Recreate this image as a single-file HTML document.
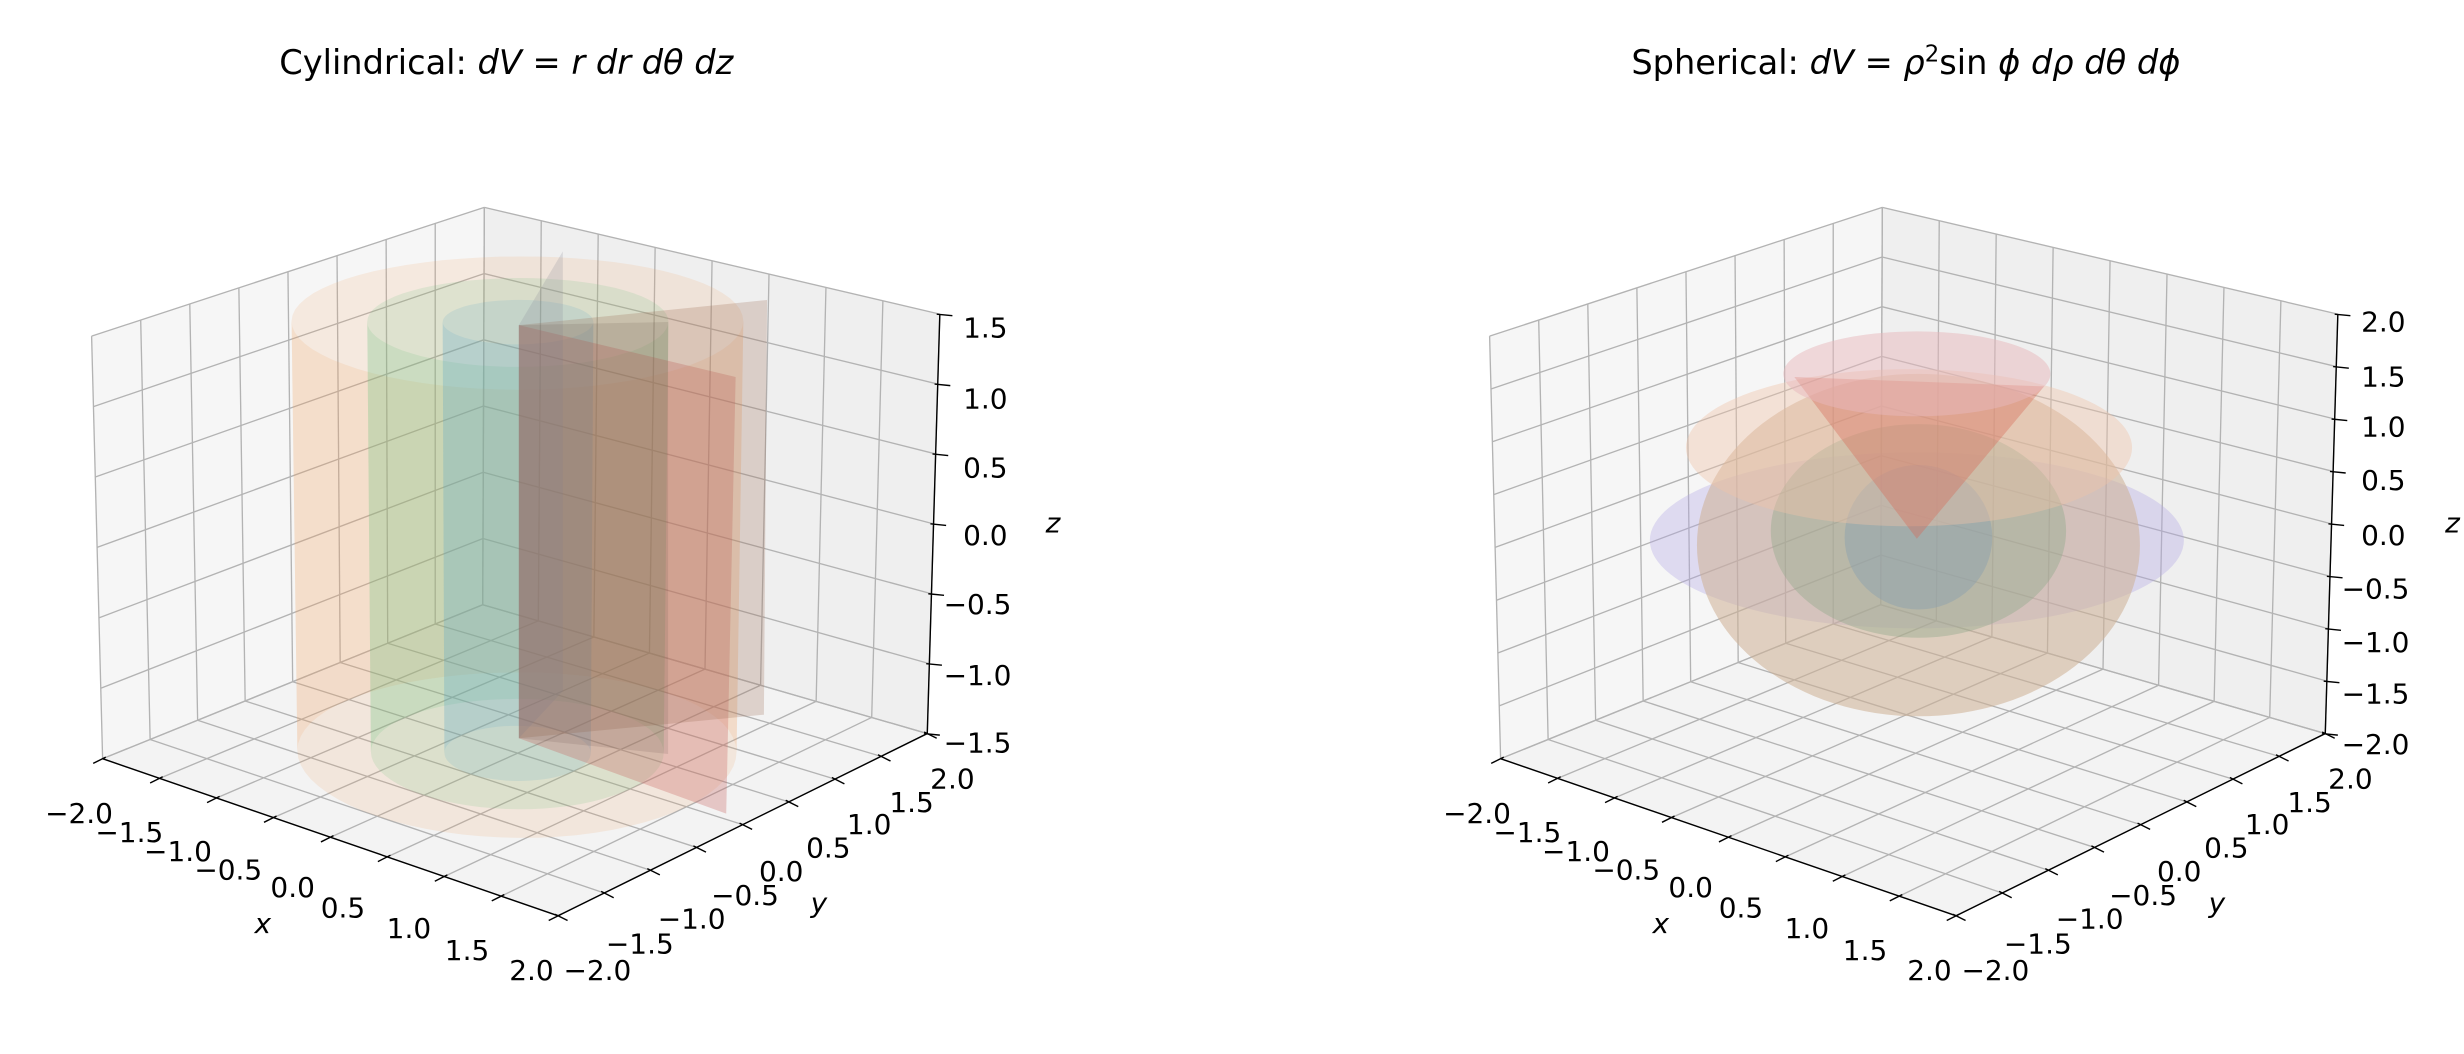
<!DOCTYPE html>
<html><head><meta charset="utf-8"><style>
html,body{margin:0;padding:0;background:#fff;}
svg{display:block;}
text{font-family:"DejaVu Sans","Liberation Sans",sans-serif;fill:#000;}
</style></head><body>
<svg id="s" xmlns="http://www.w3.org/2000/svg" width="2464" height="1054" viewBox="0 0 1568 671">
<rect width="1568" height="671" fill="#fff"/>
<g id="g1"></g>
<g id="g2"></g>
<!-- titles -->
<text x="322" y="47" font-size="21.4" text-anchor="middle">Cylindrical: <tspan font-style="italic">dV</tspan> = <tspan font-style="italic">r dr d</tspan><tspan font-style="italic">θ</tspan><tspan font-style="italic"> dz</tspan></text>
<text x="1213" y="47" font-size="21.4" text-anchor="middle">Spherical: <tspan font-style="italic">dV</tspan> = <tspan font-style="italic">ρ</tspan><tspan font-size="14.5" dy="-8">2</tspan><tspan dy="8">sin </tspan><tspan font-style="italic">ϕ dρ dθ dϕ</tspan></text>
<!-- left tick labels -->
<g font-size="17.8" text-anchor="middle">
<text x="50" y="524">−2.0</text><text x="82" y="536">−1.5</text><text x="113" y="548">−1.0</text><text x="145" y="560">−0.5</text><text x="186" y="571">0.0</text><text x="218" y="584">0.5</text><text x="260" y="597">1.0</text><text x="297" y="611">1.5</text><text x="338" y="624">2.0</text>
<text x="380" y="624">−2.0</text><text x="407" y="607">−1.5</text><text x="440" y="591">−1.0</text><text x="474" y="576">−0.5</text><text x="497" y="561">0.0</text><text x="527" y="546">0.5</text><text x="553" y="531">1.0</text><text x="580" y="517">1.5</text><text x="606" y="502">2.0</text>
<text x="627" y="215">1.5</text><text x="627" y="260">1.0</text><text x="627" y="304">0.5</text><text x="627" y="347">0.0</text><text x="622" y="391">−0.5</text><text x="622" y="436">−1.0</text><text x="622" y="479">−1.5</text>
<text x="167" y="594" font-style="italic">x</text><text x="521" y="581" font-style="italic">y</text><text x="670" y="339" font-style="italic">z</text>
</g>
<!-- right tick labels -->
<g font-size="17.8" text-anchor="middle">
<text x="940" y="524">−2.0</text><text x="972" y="536">−1.5</text><text x="1003" y="548">−1.0</text><text x="1035" y="560">−0.5</text><text x="1076" y="571">0.0</text><text x="1108" y="584">0.5</text><text x="1150" y="597">1.0</text><text x="1187" y="611">1.5</text><text x="1228" y="624">2.0</text>
<text x="1270" y="624">−2.0</text><text x="1297" y="607">−1.5</text><text x="1330" y="591">−1.0</text><text x="1364" y="576">−0.5</text><text x="1387" y="561">0.0</text><text x="1417" y="546">0.5</text><text x="1443" y="531">1.0</text><text x="1470" y="517">1.5</text><text x="1496" y="502">2.0</text>
<text x="1517" y="211">2.0</text><text x="1517" y="246">1.5</text><text x="1517" y="278">1.0</text><text x="1517" y="312">0.5</text><text x="1517" y="347">0.0</text><text x="1512" y="381">−0.5</text><text x="1512" y="415">−1.0</text><text x="1512" y="448">−1.5</text><text x="1512" y="480">−2.0</text>
<text x="1057" y="594" font-style="italic">x</text><text x="1411" y="581" font-style="italic">y</text><text x="1561" y="339" font-style="italic">z</text>
</g>
</svg>
<script>
var NS="http://www.w3.org/2000/svg";
function el(g,t,a){var e=document.createElementNS(NS,t);for(var k in a)e.setAttribute(k,a[k]);g.appendChild(e);return e;}
function mk(dx,lo,hi){
 var A0=[65+dx,483],A1=[58+dx,214],B0=[355+dx,583],B1=[354+dx,292],C0=[590+dx,467],C1=[598+dx,200],D0=[307+dx,385],D1=[308+dx,132];
 function bl(a,b,c,d,u,v){return [a[0]*(1-u)*(1-v)+b[0]*u*(1-v)+c[0]*u*v+d[0]*(1-u)*v,a[1]*(1-u)*(1-v)+b[1]*u*(1-v)+c[1]*u*v+d[1]*(1-u)*v];}
 return function(x,y,z){var u=(x+2)/4,v=(y+2)/4,w=(z-lo)/(hi-lo);var p=bl(A0,B0,C0,D0,u,v),q=bl(A1,B1,C1,D1,u,v);return [p[0]*(1-w)+q[0]*w,p[1]*(1-w)+q[1]*w];};
}
function pts(a){return a.map(function(p){return p[0].toFixed(1)+","+p[1].toFixed(1);}).join(" ");}
function frame(g,P,lo,hi,zt){
 var xs=[-2,-1.5,-1,-0.5,0,0.5,1,1.5,2];
 el(g,"polygon",{points:pts([P(-2,-2,lo),P(-2,2,lo),P(-2,2,hi),P(-2,-2,hi)]),fill:"#f6f6f6"});
 el(g,"polygon",{points:pts([P(-2,2,lo),P(2,2,lo),P(2,2,hi),P(-2,2,hi)]),fill:"#efefef"});
 el(g,"polygon",{points:pts([P(-2,-2,lo),P(2,-2,lo),P(2,2,lo),P(-2,2,lo)]),fill:"#f3f3f3"});
 var gs={stroke:"#b3b3b3","stroke-width":0.85,fill:"none"};
 function L(a,b,s){var o={x1:a[0],y1:a[1],x2:b[0],y2:b[1]};for(var k in s)o[k]=s[k];el(g,"line",o);}
 xs.forEach(function(t){L(P(-2,t,lo),P(-2,t,hi),gs);L(P(t,2,lo),P(t,2,hi),gs);L(P(t,-2,lo),P(t,2,lo),gs);L(P(-2,t,lo),P(2,t,lo),gs);});
 zt.forEach(function(z){L(P(-2,-2,z),P(-2,2,z),gs);L(P(-2,2,z),P(2,2,z),gs);});
}
function axes(g,P,lo,hi,zt){
 var xs=[-2,-1.5,-1,-0.5,0,0.5,1,1.5,2];
 function L(a,b){el(g,"line",{x1:a[0],y1:a[1],x2:b[0],y2:b[1],stroke:"#000","stroke-width":0.9});}
 L(P(-2,-2,lo),P(2,-2,lo));L(P(2,-2,lo),P(2,2,lo));L(P(2,2,lo),P(2,2,hi));
 xs.forEach(function(t){var a=P(t,-2,lo);L([a[0]+2,a[1]-1],[a[0]-6,a[1]+3]);var b=P(2,t,lo);L([b[0]-2,b[1]-1],[b[0]+6,b[1]+3]);});
 zt.forEach(function(z){var c=P(2,2,z);L([c[0]-2,c[1]],[c[0]+8,c[1]+1]);});
}
function poly(g,a,fill,op){el(g,"polygon",{points:pts(a),fill:fill,"fill-opacity":op});}
// LEFT
(function(){
 var g=document.getElementById("g1"),lo=-1.5,hi=1.5,zt=[-1.5,-1,-0.5,0,0.5,1,1.5];
 var P=mk(0,lo,hi);frame(g,P,lo,hi,zt);
 var z0=-1.5,z1=1.55;
 function cyl(r,col,op){
  var N=72,top=[],bot=[];
  for(var i=0;i<=N;i++){var t=2*Math.PI*i/N;top.push(P(r*Math.cos(t),r*Math.sin(t),z1));bot.push(P(r*Math.cos(t),r*Math.sin(t),z0));}
  var imin=0,imax=0;for(i=0;i<N;i++){if(top[i][0]<top[imin][0])imin=i;if(top[i][0]>top[imax][0])imax=i;}
  function half(a,b){var T=[],B=[];var i=a;while(true){T.push(top[i]);B.push(bot[i]);if(i==b)break;i=(i+1)%N;}return T.concat(B.reverse());}
  poly(g,half(imin,imax),col,op);poly(g,half(imax,imin),col,op);
 }
 cyl(1.5,"#f2a060",0.15);cyl(1.0,"#6cc27a",0.16);cyl(0.5,"#5fa8c8",0.16);
 // red plane
 poly(g,[[330,207],[468,240],[462,518],[330,470]],"#c8605c",0.3);
 // brown plane
 poly(g,[[330,207],[488,191],[486,455],[330,470]],"#9a6a55",0.25);
 // gray triangle
 poly(g,[[330,207],[358,160],[358,440],[330,470]],"#8a8898",0.22);
 // darker center strip
 poly(g,[[330,207],[425,205],[425,480],[330,470]],"#5a4a40",0.14);
 axes(g,P,lo,hi,zt);
})();
// RIGHT
(function(){
 var g=document.getElementById("g2"),lo=-2,hi=2,zt=[-2,-1.5,-1,-0.5,0,0.5,1,1.5,2];
 var P=mk(890,lo,hi);frame(g,P,lo,hi,zt);
 function E(cx,cy,rx,ry,f,o){el(g,"ellipse",{cx:cx,cy:cy,rx:rx,ry:ry,fill:f,"fill-opacity":o});}
 E(1220,344,170,56,"#b3a6e6",0.35);
 E(1221,347,141,109,"#e8c098",0.45);
 E(1221,347,141,109,"#a09890",0.2);
 E(1221,338,94,68,"#8ea88a",0.4);
 E(1221,342,47,46,"#8aa0b0",0.45);
 E(1215,285,142,50,"#f0c4a8",0.4);
 el(g,"polygon",{points:"1142,240 1220,343 1301,246",fill:"#d86a58","fill-opacity":0.38});
 E(1220,238,85,27,"#e8b8bc",0.5);
 axes(g,P,lo,hi,zt);
})();
</script>
</body></html>
